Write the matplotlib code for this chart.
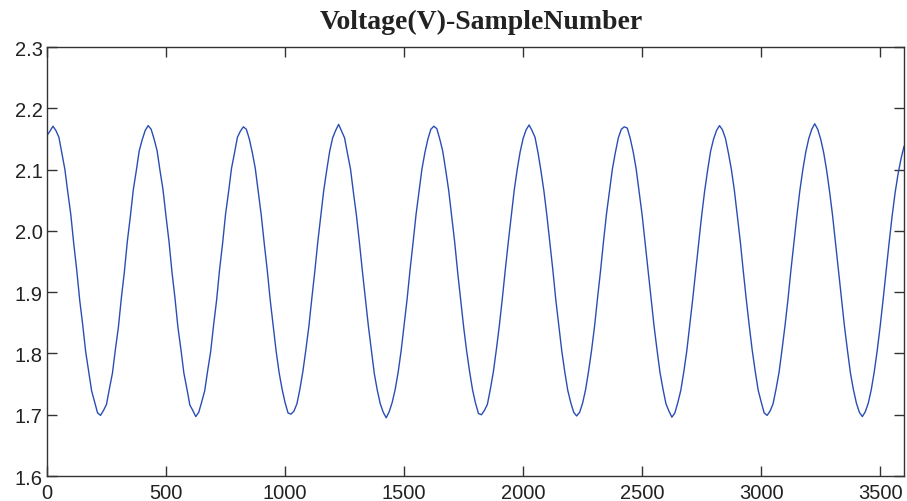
import numpy as np
import matplotlib.pyplot as plt

# samples every 12.5 points, voltages
sample_step = 12.5
voltage = [
    2.156, 2.163,
    # cycle 0 (25..412.5)
    2.171, 2.164, 2.153, 2.127, 2.101, 2.063, 2.027, 1.979,
    1.936, 1.887, 1.847, 1.803, 1.771, 1.739, 1.721, 1.703,
    1.699, 1.707, 1.717, 1.743, 1.768, 1.807, 1.843, 1.891,
    1.933, 1.983, 2.023, 2.067, 2.098, 2.131, 2.149, 2.164,
    # cycle 1 (425..812.5)
    2.172, 2.166, 2.150, 2.131, 2.098, 2.067, 2.024, 1.983,
    1.933, 1.891, 1.843, 1.807, 1.768, 1.743, 1.716, 1.707,
    1.697, 1.704, 1.721, 1.739, 1.772, 1.803, 1.847, 1.887,
    1.937, 1.979, 2.027, 2.063, 2.102, 2.127, 2.153, 2.163,
    # cycle 2 (825..1212.5)
    2.170, 2.166, 2.150, 2.128, 2.102, 2.064, 2.026, 1.980,
    1.937, 1.888, 1.846, 1.804, 1.769, 1.742, 1.720, 1.703,
    1.701, 1.706, 1.718, 1.742, 1.771, 1.806, 1.844, 1.890,
    1.934, 1.982, 2.024, 2.066, 2.099, 2.130, 2.152, 2.164,
    # cycle 3 (1225..1612.5)
    2.174, 2.163, 2.152, 2.126, 2.101, 2.062, 2.025, 1.981,
    1.934, 1.890, 1.845, 1.806, 1.767, 1.740, 1.718, 1.704,
    1.695, 1.705, 1.720, 1.741, 1.769, 1.804, 1.846, 1.888,
    1.936, 1.980, 2.026, 2.064, 2.101, 2.128, 2.150, 2.166,
    # cycle 4 (1625..2012.5)
    2.171, 2.167, 2.150, 2.130, 2.099, 2.066, 2.024, 1.982,
    1.933, 1.889, 1.844, 1.805, 1.771, 1.741, 1.719, 1.702,
    1.700, 1.707, 1.717, 1.742, 1.770, 1.806, 1.845, 1.889,
    1.936, 1.981, 2.024, 2.066, 2.100, 2.129, 2.151, 2.165,
    # cycle 5 (2025..2412.5)
    2.173, 2.164, 2.153, 2.128, 2.098, 2.065, 2.025, 1.980,
    1.936, 1.887, 1.846, 1.804, 1.770, 1.740, 1.720, 1.704,
    1.698, 1.704, 1.719, 1.741, 1.771, 1.805, 1.844, 1.890,
    1.934, 1.982, 2.027, 2.064, 2.101, 2.128, 2.152, 2.166,
    # cycle 6 (2425..2812.5)
    2.170, 2.168, 2.151, 2.129, 2.101, 2.064, 2.026, 1.981,
    1.935, 1.890, 1.845, 1.806, 1.769, 1.742, 1.718, 1.706,
    1.696, 1.703, 1.720, 1.740, 1.770, 1.804, 1.846, 1.889,
    1.935, 1.980, 2.025, 2.065, 2.099, 2.130, 2.150, 2.164,
    # cycle 7 (2825..3212.5)
    2.172, 2.165, 2.151, 2.127, 2.100, 2.066, 2.024, 1.982,
    1.934, 1.888, 1.845, 1.805, 1.771, 1.740, 1.721, 1.703,
    1.699, 1.706, 1.718, 1.742, 1.769, 1.806, 1.845, 1.888,
    1.936, 1.981, 2.025, 2.066, 2.100, 2.129, 2.151, 2.166,
    # cycle 8 (3225..3600)
    2.175, 2.166, 2.150, 2.128, 2.099, 2.064, 2.025, 1.980,
    1.935, 1.889, 1.844, 1.805, 1.768, 1.741, 1.719, 1.704,
    1.697, 1.705, 1.719, 1.741, 1.770, 1.805, 1.845, 1.889,
    1.935, 1.981, 2.024, 2.062, 2.093, 2.118, 2.138,
]
samples = np.arange(len(voltage)) * sample_step

x_ticks = [0, 500, 1000, 1500, 2000, 2500, 3000, 3500]
y_ticks = [1.6, 1.7, 1.8, 1.9, 2.0, 2.1, 2.2, 2.3]
title = 'Voltage(V)-SampleNumber'

plt.rcParams['font.family'] = ['Liberation Sans', 'DejaVu Sans']

fig = plt.figure(figsize=(9.07, 5.02), dpi=100)
ax = fig.add_axes([0.0518, 0.0498, 0.9449, 0.8542])

ax.plot(samples, voltage, color='#2a4db5', lw=1.0)

ax.set_xlim(0, 3600)
ax.set_ylim(1.6, 2.3)
ax.set_xticks(x_ticks)
ax.set_yticks(y_ticks)
ax.set_yticklabels(['%.1f' % v for v in y_ticks])
ax.tick_params(direction='in', top=True, right=True, length=7, width=1,
               color='#333333', labelsize=14.5, labelcolor='#222222')
ax.tick_params(axis='x', pad=5)
ax.tick_params(axis='y', pad=3)
for s in ax.spines.values():
    s.set_color('#333333')
    s.set_linewidth(1.0)

fig.text(0.531, 0.956, title, ha='center', va='center', fontsize=20,
         fontweight='bold', family='Liberation Serif', color='#222222')

fig.savefig('out.png', dpi=100)
